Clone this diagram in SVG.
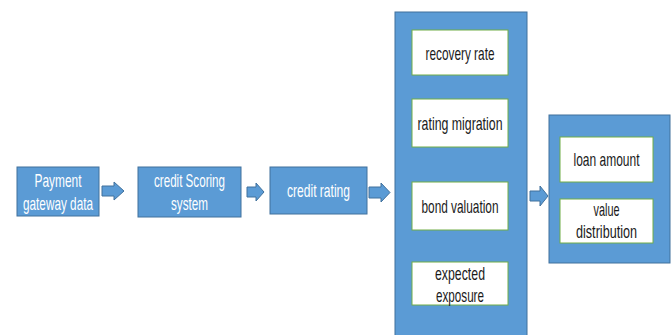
<svg xmlns="http://www.w3.org/2000/svg" width="672" height="335" viewBox="0 0 672 335">
<style>
.blue{fill:#5B9BD5;stroke:#41719C;stroke-width:1}
.white{fill:#FFFFFF;stroke:#70AD47;stroke-width:1}
.arr{fill:#5B9BD5;stroke:#41719C;stroke-width:1}
text{font-family:"Liberation Sans",Arial,sans-serif;font-size:19px;text-anchor:middle}
.wt{fill:#FFFFFF}
.dk{fill:#1a1a1a}
</style>
<rect width="672" height="335" fill="#FFFFFF"/>
<g id="connectors">
<path class="arr" d="M102,186 H114 V182 L124,191 L114,200 V196 H102 Z"/>
<path class="arr" d="M247,187 H256 V183 L264,192 L256,201 V197 H247 Z"/>
<path class="arr" d="M369,187 H381 V183 L390,192.5 L381,202 V198 H369 Z"/>
<path class="arr" d="M530,191 H540 V186 L548,196 L540,206 V201 H530 Z"/>
</g>
<g id="node-payment">
<rect class="blue" x="17" y="167" width="82" height="49"/>
<text class="wt" x="58" y="187" textLength="47" lengthAdjust="spacingAndGlyphs">Payment</text>
<text class="wt" x="58" y="210" textLength="70" lengthAdjust="spacingAndGlyphs">gateway data</text>
</g>
<g id="node-scoring">
<rect class="blue" x="138" y="167" width="103" height="50"/>
<text class="wt" x="189.5" y="187" textLength="71" lengthAdjust="spacingAndGlyphs">credit Scoring</text>
<text class="wt" x="189.5" y="210" textLength="37" lengthAdjust="spacingAndGlyphs">system</text>
</g>
<g id="node-rating">
<rect class="blue" x="270" y="167" width="97" height="47"/>
<text class="wt" x="318.5" y="197" textLength="63" lengthAdjust="spacingAndGlyphs">credit rating</text>
</g>
<g id="node-risk">
<rect class="blue" x="395" y="12" width="132" height="330"/>
<g id="node-recovery">
<rect class="white" x="412" y="30" width="96" height="45"/>
<text class="dk" x="460" y="60" textLength="69" lengthAdjust="spacingAndGlyphs">recovery rate</text>
</g>
<g id="node-migration">
<rect class="white" x="412" y="99" width="96" height="48"/>
<text class="dk" x="460" y="130" textLength="85" lengthAdjust="spacingAndGlyphs">rating migration</text>
</g>
<g id="node-bond">
<rect class="white" x="412" y="182" width="96" height="48"/>
<text class="dk" x="460" y="213" textLength="77" lengthAdjust="spacingAndGlyphs">bond valuation</text>
</g>
<g id="node-exposure">
<rect class="white" x="412" y="262" width="96" height="43"/>
<text class="dk" x="460" y="280" textLength="50" lengthAdjust="spacingAndGlyphs">expected</text>
<text class="dk" x="460" y="302" textLength="48" lengthAdjust="spacingAndGlyphs">exposure</text>
</g>
</g>
<g id="node-output">
<rect class="blue" x="549" y="115" width="121" height="148"/>
<g id="node-loan">
<rect class="white" x="560" y="137" width="93" height="45"/>
<text class="dk" x="606.5" y="166" textLength="66" lengthAdjust="spacingAndGlyphs">loan amount</text>
</g>
<g id="node-value">
<rect class="white" x="560" y="199" width="93" height="44"/>
<text class="dk" x="606.5" y="216" textLength="26" lengthAdjust="spacingAndGlyphs">value</text>
<text class="dk" x="606.5" y="238" textLength="61" lengthAdjust="spacingAndGlyphs">distribution</text>
</g>
</g>
</svg>
